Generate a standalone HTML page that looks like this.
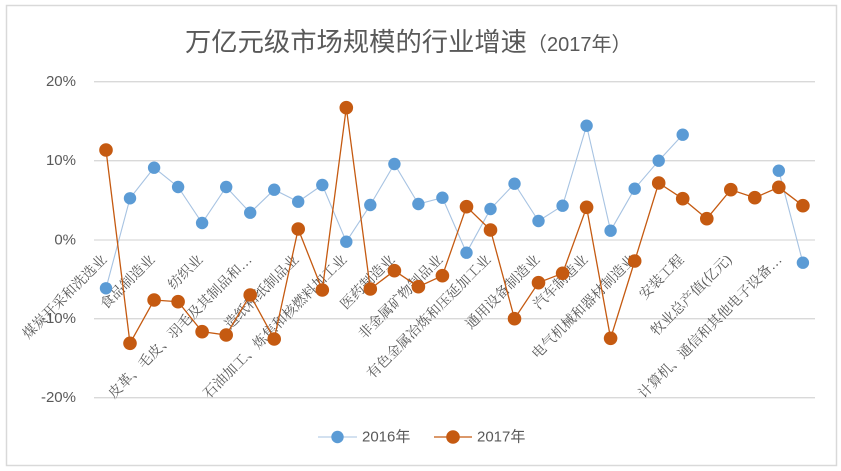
<!DOCTYPE html>
<html><head><meta charset="utf-8"><style>
html,body{margin:0;padding:0;background:#fff;}
svg{display:block;}
</style></head><body>
<svg width="841" height="471" viewBox="0 0 841 471" xmlns="http://www.w3.org/2000/svg">
<rect x="0" y="0" width="841" height="471" fill="#fff"/>
<rect x="6.5" y="5.5" width="830" height="460" fill="#fff" stroke="#d9d9d9" stroke-width="1.5"/>
<text x="185" y="51" font-family="'Liberation Sans','Noto Sans CJK SC',sans-serif" font-size="26" fill="#595959"><tspan textLength="342" lengthAdjust="spacingAndGlyphs">万亿元级市场规模的行业增速</tspan><tspan font-size="20">（2017年）</tspan></text>
<g stroke="#d9d9d9" stroke-width="1.3">
<line x1="94" y1="81.7" x2="815" y2="81.7"/>
<line x1="94" y1="160.7" x2="815" y2="160.7"/>
<line x1="94" y1="240" x2="815" y2="240"/>
<line x1="94" y1="318.7" x2="815" y2="318.7"/>
<line x1="94" y1="397.7" x2="815" y2="397.7"/>
</g>
<g font-family="'Liberation Sans',sans-serif" font-size="15" fill="#595959" text-anchor="end" dominant-baseline="central">
<text x="76" y="81.7">20%</text>
<text x="76" y="160.7">10%</text>
<text x="76" y="240">0%</text>
<text x="76" y="318.7">-10%</text>
<text x="76" y="397.7">-20%</text>
</g>
<g font-family="'Liberation Serif','Noto Serif CJK SC',serif" font-size="14" fill="#595959" text-anchor="end" dominant-baseline="central">
<text transform="translate(105,258) rotate(-45)">煤炭开采和洗选业</text>
<text transform="translate(153,258) rotate(-45)">食品制造业</text>
<text transform="translate(201,258) rotate(-45)">纺织业</text>
<text transform="translate(250,258) rotate(-45)">皮革、毛皮、羽毛及其制品和…</text>
<text transform="translate(297,258) rotate(-45)">造纸和纸制品业</text>
<text transform="translate(345,258) rotate(-45)">石油加工、炼焦和核燃料加工业</text>
<text transform="translate(393,258) rotate(-45)">医药制造业</text>
<text transform="translate(441,258) rotate(-45)">非金属矿物制品业</text>
<text transform="translate(489,258) rotate(-45)">有色金属冶炼和压延加工业</text>
<text transform="translate(538,258) rotate(-45)">通用设备制造业</text>
<text transform="translate(586,258) rotate(-45)">汽车制造业</text>
<text transform="translate(634,258) rotate(-45)">电气机械和器材制造业</text>
<text transform="translate(682,258) rotate(-45)">安装工程</text>
<text transform="translate(730,258) rotate(-45)">牧业总产值(亿元)</text>
<text transform="translate(780,258) rotate(-45)">计算机、通信和其他电子设备…</text>
</g>
<!-- 2016 series -->
<g fill="none" stroke="#a7c3e2" stroke-width="1.1">
<polyline points="106,288.3 130,198.3 154.1,167.7 178.1,187 202.1,223 226.2,187 250.2,212.7 274.2,189.7 298.2,201.7 322.3,185 346.3,241.7 370.3,205 394.4,164 418.4,204 442.4,197.7 466.5,252.7 490.5,209 514.5,183.7 538.5,221 562.6,205.7 586.6,125.7 610.6,230.7 634.7,188.7 658.7,160.7 682.7,134.7"/>
<polyline points="778.8,170.7 802.9,262.7"/>
</g>
<g fill="#5b9bd5">
<circle cx="106" cy="288.3" r="6.2"/><circle cx="130" cy="198.3" r="6.2"/><circle cx="154.1" cy="167.7" r="6.2"/><circle cx="178.1" cy="187" r="6.2"/><circle cx="202.1" cy="223" r="6.2"/><circle cx="226.2" cy="187" r="6.2"/><circle cx="250.2" cy="212.7" r="6.2"/><circle cx="274.2" cy="189.7" r="6.2"/><circle cx="298.2" cy="201.7" r="6.2"/><circle cx="322.3" cy="185" r="6.2"/><circle cx="346.3" cy="241.7" r="6.2"/><circle cx="370.3" cy="205" r="6.2"/><circle cx="394.4" cy="164" r="6.2"/><circle cx="418.4" cy="204" r="6.2"/><circle cx="442.4" cy="197.7" r="6.2"/><circle cx="466.5" cy="252.7" r="6.2"/><circle cx="490.5" cy="209" r="6.2"/><circle cx="514.5" cy="183.7" r="6.2"/><circle cx="538.5" cy="221" r="6.2"/><circle cx="562.6" cy="205.7" r="6.2"/><circle cx="586.6" cy="125.7" r="6.2"/><circle cx="610.6" cy="230.7" r="6.2"/><circle cx="634.7" cy="188.7" r="6.2"/><circle cx="658.7" cy="160.7" r="6.2"/><circle cx="682.7" cy="134.7" r="6.2"/><circle cx="778.8" cy="170.7" r="6.2"/><circle cx="802.9" cy="262.7" r="6.2"/>
</g>
<!-- 2017 series -->
<polyline fill="none" stroke="#c55a11" stroke-width="1.3" points="106,150 130,343.3 154.1,300 178.1,301.7 202.1,331.7 226.2,335 250.2,295 274.2,339 298.2,229 322.3,290 346.3,107.7 370.3,289 394.4,270.7 418.4,286.7 442.4,275.7 466.5,206.7 490.5,230 514.5,318.7 538.5,282.7 562.6,273.3 586.6,207.3 610.6,338.3 634.7,261 658.7,183 682.7,198.7 706.8,218.7 730.8,189.7 754.8,197.7 778.8,187.3 802.9,205.7"/>
<g fill="#c55a11">
<circle cx="106" cy="150" r="6.8"/><circle cx="130" cy="343.3" r="6.8"/><circle cx="154.1" cy="300" r="6.8"/><circle cx="178.1" cy="301.7" r="6.8"/><circle cx="202.1" cy="331.7" r="6.8"/><circle cx="226.2" cy="335" r="6.8"/><circle cx="250.2" cy="295" r="6.8"/><circle cx="274.2" cy="339" r="6.8"/><circle cx="298.2" cy="229" r="6.8"/><circle cx="322.3" cy="290" r="6.8"/><circle cx="346.3" cy="107.7" r="6.8"/><circle cx="370.3" cy="289" r="6.8"/><circle cx="394.4" cy="270.7" r="6.8"/><circle cx="418.4" cy="286.7" r="6.8"/><circle cx="442.4" cy="275.7" r="6.8"/><circle cx="466.5" cy="206.7" r="6.8"/><circle cx="490.5" cy="230" r="6.8"/><circle cx="514.5" cy="318.7" r="6.8"/><circle cx="538.5" cy="282.7" r="6.8"/><circle cx="562.6" cy="273.3" r="6.8"/><circle cx="586.6" cy="207.3" r="6.8"/><circle cx="610.6" cy="338.3" r="6.8"/><circle cx="634.7" cy="261" r="6.8"/><circle cx="658.7" cy="183" r="6.8"/><circle cx="682.7" cy="198.7" r="6.8"/><circle cx="706.8" cy="218.7" r="6.8"/><circle cx="730.8" cy="189.7" r="6.8"/><circle cx="754.8" cy="197.7" r="6.8"/><circle cx="778.8" cy="187.3" r="6.8"/><circle cx="802.9" cy="205.7" r="6.8"/>
</g>
<!-- legend -->
<line x1="318" y1="437" x2="357" y2="437" stroke="#a7c3e2" stroke-width="1.1"/>
<circle cx="337.5" cy="437" r="6.2" fill="#5b9bd5"/>
<line x1="434" y1="437" x2="472" y2="437" stroke="#c55a11" stroke-width="1.3"/>
<circle cx="453" cy="437" r="6.8" fill="#c55a11"/>
<g font-family="'Liberation Sans','Noto Sans CJK SC',sans-serif" font-size="15" fill="#595959" dominant-baseline="central">
<text x="362" y="437">2016年</text>
<text x="477" y="437">2017年</text>
</g>
</svg>
</body></html>
